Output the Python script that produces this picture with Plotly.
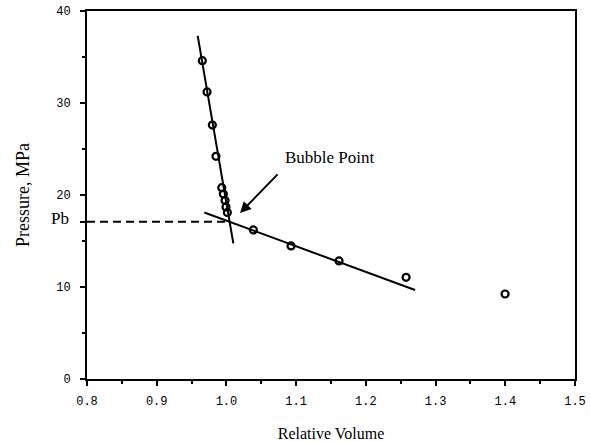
import plotly.graph_objects as go

# measured data
rel_volume = [0.9654, 0.9722, 0.9798, 0.985, 0.9933, 0.9956, 0.998, 0.9994, 1.0013,
              1.0386, 1.0927, 1.1615, 1.2577, 1.3997]
pressure = [34.6, 31.2, 27.6, 24.2, 20.8, 20.1, 19.4, 18.7, 18.1,
            16.2, 14.46, 12.83, 11.05, 9.24]

# fitted lines
steep_x = [0.9588, 1.0099]
steep_y = [37.3, 14.75]
shallow_x = [0.9683, 1.2706]
shallow_y = [18.1, 9.67]

# bubble point
pb_x = [0.8, 1.003]
pb_y = [17.1, 17.1]

x_ticks = [0.8, 0.9, 1.0, 1.1, 1.2, 1.3, 1.4, 1.5]
x_ticktext = ["0.8", "0.9", "1.0", "1.1", "1.2", "1.3", "1.4", "1.5"]
y_ticks = [0, 10, 20, 30, 40, 17.1]
y_ticktext = ["0", "10", "20", "30", "40", ""]

serif = "Liberation Serif, Times New Roman, serif"
mono = "Liberation Mono, Courier New, monospace"

fig = go.Figure()
fig.add_trace(go.Scatter(x=steep_x, y=steep_y, mode="lines",
                         line=dict(color="black", width=2), hoverinfo="skip"))
fig.add_trace(go.Scatter(x=shallow_x, y=shallow_y, mode="lines",
                         line=dict(color="black", width=2), hoverinfo="skip"))
fig.add_trace(go.Scatter(x=pb_x, y=pb_y, mode="lines",
                         line=dict(color="black", width=2, dash="8px,5px"), hoverinfo="skip"))
fig.add_trace(go.Scatter(x=rel_volume, y=pressure, mode="markers",
                         marker=dict(symbol="circle-open", size=7, color="black",
                                     line=dict(width=2.2, color="black"))))

fig.add_annotation(x=1.0812, y=24.1, xref="x", yref="y", text="Bubble Point",
                   showarrow=False, xanchor="left", yanchor="middle",
                   font=dict(family=serif, size=17, color="black"))
fig.add_annotation(x=1.0195, y=18.04, ax=1.0755, ay=22.4, xref="x", yref="y",
                   axref="x", ayref="y", text="", showarrow=True,
                   arrowhead=2, arrowsize=1.1, arrowwidth=2, arrowcolor="black")
fig.add_annotation(x=-0.055, y=17.4, xref="paper", yref="y", text="Pb",
                   showarrow=False, xanchor="center", yanchor="middle",
                   font=dict(family=serif, size=17, color="black"))

fig.update_layout(
    width=591, height=442,
    margin=dict(l=87, r=16, t=11, b=63),
    paper_bgcolor="white", plot_bgcolor="white",
    showlegend=False,
    xaxis=dict(range=[0.8, 1.5], tickvals=x_ticks, ticktext=x_ticktext,
               automargin=False,
               ticks="outside", ticklen=5, tickwidth=1.5, tickcolor="black",
               showline=True, linecolor="black", linewidth=2, mirror=True,
               showgrid=False, zeroline=False, ticklabelstandoff=5,
               tickfont=dict(family=mono, size=12, color="black"),
               minor=dict(tickvals=[0.85, 0.95, 1.05, 1.15, 1.25, 1.35, 1.45],
                          ticks="outside", ticklen=3, tickcolor="black", showgrid=False),
               title=dict(text="Relative Volume", standoff=21,
                          font=dict(family=serif, size=16, color="black"))),
    yaxis=dict(range=[0, 40], tickvals=y_ticks, ticktext=y_ticktext,
               automargin=False,
               ticks="outside", ticklen=5, tickwidth=1.5, tickcolor="black",
               showline=True, linecolor="black", linewidth=2, mirror=True,
               showgrid=False, zeroline=False, ticklabelstandoff=7,
               tickfont=dict(family=mono, size=12, color="black"),
               minor=dict(tickvals=[5, 15, 25, 35], ticks="outside", ticklen=3,
                          tickcolor="black", showgrid=False),
               title=dict(text="Pressure, MPa", standoff=22,
                          font=dict(family=serif, size=18, color="black"))),
)

fig.write_html("out.html")
